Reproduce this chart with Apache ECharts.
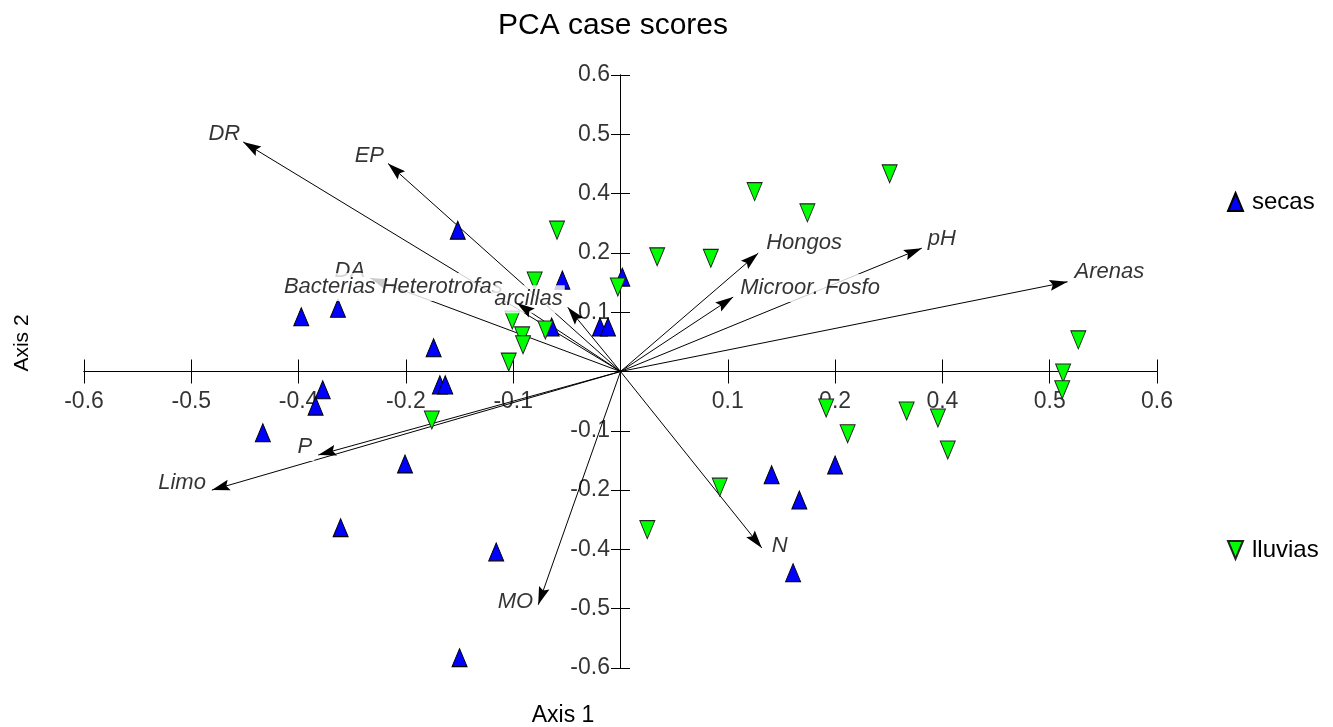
<!DOCTYPE html>
<html><head><meta charset="utf-8">
<script src="https://cdn.jsdelivr.net/npm/echarts@6/dist/echarts.min.js"></script>
<style>html,body{margin:0;padding:0;background:#fff}#c{width:1333px;height:727px}</style>
</head><body><div id="c"></div>
<script>
// Tick positions (PC-ORD style: ticks every 0.12) and their printed labels
const xTickValues = [-0.6,-0.48,-0.36,-0.24,-0.12,0.12,0.24,0.36,0.48,0.6];
const xTickLabels = ['-0.6','-0.5','-0.4','-0.2','-0.1','0.1','0.2','0.4','0.5','0.6'];
const yTickValues = [-0.6,-0.48,-0.36,-0.24,-0.12,0.12,0.24,0.36,0.48,0.6];
const yTickLabels = ['-0.6','-0.5','-0.4','-0.2','-0.1','0.1','0.2','0.4','0.5','0.6'];

// Case scores: secas
const secasX = [-0.182,-0.065,0.002,-0.023,-0.014,-0.077,-0.357,-0.316,-0.209,-0.202,-0.196,-0.333,-0.341,-0.400,-0.241,-0.313,-0.139,-0.180,0.169,0.200,0.240,0.193];
const secasY = [0.286,0.185,0.191,0.090,0.090,0.090,0.111,0.128,0.048,-0.027,-0.027,-0.037,-0.070,-0.124,-0.187,-0.316,-0.365,-0.579,-0.209,-0.260,-0.189,-0.407];

// Case scores: lluvias
const lluviasX = [-0.071,0.041,0.101,0.150,0.209,0.301,-0.096,-0.003,-0.121,-0.110,-0.109,-0.084,-0.125,-0.211,0.111,0.030,0.230,0.254,0.320,0.355,0.366,0.512,0.495,0.494];
const lluviasY = [0.286,0.232,0.229,0.364,0.321,0.400,0.183,0.171,0.104,0.072,0.054,0.084,0.019,-0.098,-0.234,-0.320,-0.074,-0.126,-0.080,-0.094,-0.159,0.064,-0.003,-0.037];

// Biplot vectors
const vecNames = ['DR','EP','DA','Bacterias Heterotrofas','arcillas','Hongos','Microor. Fosfo','pH','Arenas','N','MO','P','Limo'];
const vecX = [-0.422,-0.260,-0.280,-0.116,-0.059,0.154,0.126,0.337,0.500,0.158,-0.092,-0.338,-0.457];
const vecY = [0.4645,0.421,0.189,0.1385,0.130,0.2395,0.1506,0.2496,0.1815,-0.357,-0.472,-0.169,-0.240];

const FONT = 'Liberation Sans, Arial, sans-serif';
const labelPlace = {
  'DR':{align:'right',dx:-1,dy:-8},
  'EP':{align:'right',dx:-2,dy:-7.5},
  'DA':{align:'right',dx:-3,dy:-7},
  'Bacterias Heterotrofas':{align:'right',dx:-12,dy:-16},
  'arcillas':{align:'right',dx:-3,dy:-8},
  'Hongos':{align:'left',dx:6,dy:-10},
  'Microor. Fosfo':{align:'left',dx:5,dy:-9},
  'pH':{align:'left',dx:4,dy:-9},
  'Arenas':{align:'left',dx:5,dy:-10},
  'N':{align:'left',dx:8,dy:-2},
  'MO':{align:'right',dx:-3,dy:-3},
  'P':{align:'right',dx:-4,dy:-8},
  'Limo':{align:'right',dx:-4,dy:-7}
};

const vecData = vecNames.map((n,i)=>[vecX[i],vecY[i]]);
const underHeadNames = ['DA'];
const headsUnder = vecNames.map((n,i)=>underHeadNames.includes(n)?[vecX[i],vecY[i]]:null).filter(Boolean);
const headsOver = vecNames.map((n,i)=>underHeadNames.includes(n)?null:[vecX[i],vecY[i]]).filter(Boolean);

function shaftItem(params, api){
  const o = api.coord([0,0]); const p = api.coord([api.value(0), api.value(1)]);
  return {type:'line', shape:{x1:o[0],y1:o[1],x2:p[0],y2:p[1]}, style:{stroke:'#000',lineWidth:1}};
}
function headItem(params, api){
  const o = api.coord([0,0]); const p = api.coord([api.value(0), api.value(1)]);
  const dx=p[0]-o[0], dy=p[1]-o[1]; const len=Math.hypot(dx,dy); const ux=dx/len, uy=dy/len;
  const L=18, W=5.5, N=3;
  const bx=p[0]-ux*L, by=p[1]-uy*L, nx=-uy, ny=ux;
  const mx=p[0]-ux*(L-N), my=p[1]-uy*(L-N);
  return {type:'polygon', shape:{points:[[p[0],p[1]],[bx+nx*W,by+ny*W],[mx,my],[bx-nx*W,by-ny*W]]}, style:{fill:'#000'}};
}

const axisCommon = {
  type:'value', min:-0.6, max:0.6, interval:0.12,
  splitLine:{show:false},
  axisLabel:{show:false},
  axisLine:{show:true,onZero:true,lineStyle:{color:'#000',width:1}},
};
const hidden = {color:'rgba(0,0,0,0)'};

const chart = echarts.init(document.getElementById('c'), null, {renderer:'canvas'});
chart.setOption({
  animation:false,
  backgroundColor:'#fff',
  title:{text:'PCA case scores', left:608, top:6, textAlign:'center',
    textStyle:{fontSize:30,fontWeight:'normal',color:'#000',fontFamily:FONT}},
  grid:{left:84,right:176,top:75,bottom:59,containLabel:false},
  xAxis:[
    Object.assign({}, axisCommon, {position:'bottom',
      axisTick:{show:true,length:12,lineStyle:{color:'#000'}}}),
    Object.assign({}, axisCommon, {position:'top',
      axisTick:{show:true,length:12,lineStyle:{color:'#000'}}})
  ],
  yAxis:[
    Object.assign({}, axisCommon, {position:'left',
      axisTick:{show:true,length:9.5,lineStyle:{color:'#000'}}}),
    Object.assign({}, axisCommon, {position:'right',
      axisTick:{show:true,length:9.5,lineStyle:{color:'#000'}}})
  ],
  legend:[
    {data:['secas'],left:1222,top:185,orient:'vertical',itemWidth:15,itemHeight:18,
      textStyle:{fontSize:24,color:'#000',fontFamily:FONT,padding:[0,0,0,4]}},
    {data:[{name:'lluvias',icon:'path://M0,0L15,0L7.5,18Z'}],left:1222,top:533,orient:'vertical',itemWidth:15,itemHeight:18,
      textStyle:{fontSize:24,color:'#000',fontFamily:FONT,padding:[0,0,0,4]}}
  ],
  graphic:[
    {type:'text',x:563,y:716,style:{text:'Axis 1',fill:'#000',font:'23px '+FONT,align:'center',verticalAlign:'middle'}},
    {type:'text',x:22,y:343,rotation:Math.PI/2,style:{text:'Axis 2',fill:'#000',font:'21px '+FONT,align:'center',verticalAlign:'middle'}}
  ],
  series:[
    {type:'scatter',name:'xTicks',symbol:'circle',symbolSize:1,itemStyle:hidden,z:1,silent:true,
      label:{show:true,position:'inside',formatter:'{b}',fontSize:23,color:'#000',fontFamily:FONT,
        align:'center',verticalAlign:'top',offset:[0,19]},
      data:xTickValues.map((v,i)=>({name:xTickLabels[i],value:[v,0]}))},
    {type:'scatter',name:'yTicks',symbol:'circle',symbolSize:1,itemStyle:hidden,z:1,silent:true,
      label:{show:true,position:'inside',formatter:'{b}',fontSize:23,color:'#000',fontFamily:FONT,
        align:'right',verticalAlign:'middle',offset:[-10.5,0]},
      data:yTickValues.map((v,i)=>({name:yTickLabels[i],value:[0,v]}))},
    {type:'custom',name:'shafts',renderItem:shaftItem,data:vecData,encode:{x:0,y:1},z:1,silent:true,clip:false},
    {type:'custom',name:'headsUnder',renderItem:headItem,data:headsUnder,encode:{x:0,y:1},z:1,silent:true,clip:false},
    {type:'scatter',name:'secas',symbol:'triangle',symbolSize:[15,18],z:2,
      itemStyle:{color:'#0000ff',borderColor:'#000',borderWidth:1,opacity:1},
      data:secasX.map((x,i)=>[x,secasY[i]])},
    {type:'scatter',name:'lluvias',symbol:'triangle',symbolRotate:180,symbolSize:[15,18],z:2,
      itemStyle:{color:'#00ff00',borderColor:'#222',borderWidth:1,opacity:1},
      data:lluviasX.map((x,i)=>[x,lluviasY[i]])},
    {type:'scatter',name:'vecLabels',symbol:'circle',symbolSize:1,z:3,silent:true,
      itemStyle:hidden,
      label:{show:true,position:'inside',formatter:'{b}',fontStyle:'italic',fontSize:22,color:'#000',
        fontFamily:FONT,backgroundColor:'#fff',padding:[3,2],verticalAlign:'middle'},
      data:vecNames.map((n,i)=>({name:n,value:[vecX[i],vecY[i]],
        label:{align:labelPlace[n].align,offset:[labelPlace[n].dx,labelPlace[n].dy]}}))},
    {type:'custom',name:'headsOver',renderItem:headItem,data:headsOver,encode:{x:0,y:1},z:4,silent:true,clip:false}
  ]
});
</script></body></html>
